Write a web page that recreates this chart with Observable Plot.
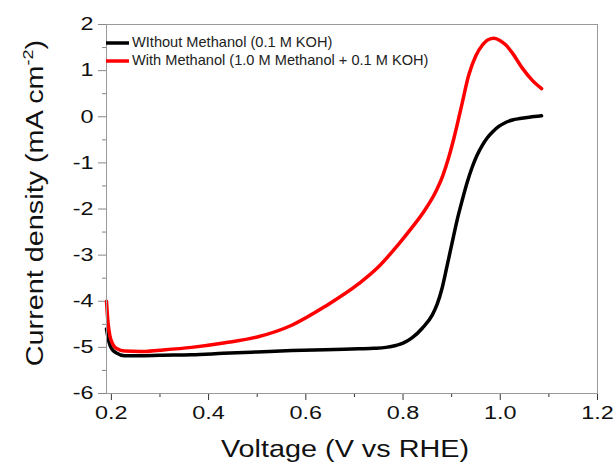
<!DOCTYPE html>
<html><head><meta charset="utf-8">
<script src="https://cdn.jsdelivr.net/npm/d3@7"></script>
<script src="https://cdn.jsdelivr.net/npm/@observablehq/plot@0.6"></script>
<style>
html,body{margin:0;padding:0;background:#fff;}
#chart{position:relative;width:616px;height:463px;}
</style></head><body><div id="chart"></div>
<script>
const seriesNames = ["WIthout Methanol (0.1 M KOH)", "With Methanol (1.0 M Methanol + 0.1 M KOH)"];
const seriesColors = ["#000000", "#ff0000"];

const voltageWithout = [0.190, 0.195, 0.200, 0.210, 0.227, 0.26, 0.30, 0.365, 0.43, 0.50, 0.571, 0.64, 0.709, 0.74, 0.765, 0.785, 0.80, 0.819, 0.84, 0.86, 0.87, 0.88, 0.89, 0.901, 0.911, 0.922, 0.932, 0.942, 0.952, 0.963, 0.973, 0.985, 0.997, 1.01, 1.025, 1.04, 1.06, 1.085];
const currentWithout = [-4.60, -4.88, -5.02, -5.12, -5.18, -5.18, -5.17, -5.16, -5.13, -5.10, -5.07, -5.05, -5.03, -5.02, -5.00, -4.96, -4.91, -4.79, -4.58, -4.30, -4.07, -3.73, -3.26, -2.73, -2.25, -1.80, -1.42, -1.10, -0.84, -0.62, -0.46, -0.32, -0.21, -0.13, -0.07, -0.04, -0.01, 0.02];

const voltageWith = [0.190, 0.193, 0.197, 0.203, 0.212, 0.227, 0.26, 0.30, 0.365, 0.434, 0.502, 0.571, 0.64, 0.709, 0.748, 0.791, 0.817, 0.845, 0.867, 0.882, 0.894, 0.905, 0.92, 0.935, 0.95, 0.963, 0.975, 0.987, 1.0, 1.011, 1.025, 1.045, 1.065, 1.085];
const currentWith = [-4.00, -4.45, -4.75, -4.93, -5.03, -5.08, -5.09, -5.06, -5.00, -4.90, -4.77, -4.52, -4.11, -3.62, -3.27, -2.76, -2.42, -2.02, -1.63, -1.27, -0.88, -0.45, 0.22, 0.90, 1.33, 1.55, 1.67, 1.70, 1.65, 1.56, 1.38, 1.06, 0.80, 0.61];

const xTicks = [0.2, 0.4, 0.6, 0.8, 1.0, 1.2];
const xMinorTicks = [0.3, 0.5, 0.7, 0.9, 1.1];
const yTicks = [-6, -5, -4, -3, -2, -1, 0, 1, 2];
const yMinorTicks = [-5.5, -4.5, -3.5, -2.5, -1.5, -0.5, 0.5, 1.5];
const xTitle = "Voltage (V vs RHE)";
const yTitleMain = "Current density (mA cm";
const yTitleSup = "-2";
const yTitleEnd = ")";

const rows = [];
voltageWithout.forEach((v, i) => rows.push({V: v, I: currentWithout[i], s: seriesNames[0]}));
voltageWith.forEach((v, i) => rows.push({V: v, I: currentWith[i], s: seriesNames[1]}));

const FONT = "'Liberation Sans', Arial, sans-serif";

const plot = Plot.plot({
  width: 616, height: 463,
  marginLeft: 106, marginRight: 19, marginTop: 24, marginBottom: 70,
  style: {fontFamily: FONT, background: "white", overflow: "visible"},
  x: {domain: [0.19, 1.2]},
  y: {domain: [-6, 2]},
  color: {domain: seriesNames, range: seriesColors},
  marks: [
    Plot.axisX({ticks: xMinorTicks, tickSize: 4, tickFormat: () => "", label: null, stroke: "#333"}),
    Plot.axisX({ticks: xTicks, tickSize: 7, tickPadding: 6, tickFormat: d3.format(".1f"), fontSize: 18, label: null, stroke: "#333", fill: "#111"}),
    Plot.axisY({ticks: yMinorTicks, tickSize: 4, tickFormat: () => "", label: null, stroke: "#888"}),
    Plot.axisY({ticks: yTicks, tickSize: 8, tickPadding: 5, tickFormat: d => String(d), fontSize: 18, label: null, stroke: "#888", fill: "#111"}),
    Plot.line(rows, {x: "V", y: "I", z: "s", stroke: "s", strokeWidth: 3.5, curve: "monotone-x"}),
    Plot.frame({stroke: "#999"})
  ]
});

document.getElementById("chart").appendChild(plot);
const svg = d3.select(plot);

// Widen tick labels to match the reference's broad lettering
svg.selectAll('g[aria-label$="tick label"] text').each(function() {
  const L = this.getComputedTextLength();
  if (L > 0) {
    this.setAttribute("textLength", (L * 1.3).toFixed(1));
    this.setAttribute("lengthAdjust", "spacingAndGlyphs");
  }
});

// Axis titles
svg.append("text")
  .attr("transform", "translate(345,457) scale(1.2,1)")
  .attr("text-anchor", "middle")
  .attr("font-family", FONT).attr("font-size", 24).attr("fill", "#111")
  .text(xTitle);

const yt = svg.append("text")
  .attr("transform", "translate(43,203) rotate(-90) scale(1.2,1)")
  .attr("text-anchor", "middle")
  .attr("font-family", FONT).attr("font-size", 24).attr("fill", "#111");
yt.append("tspan").text(yTitleMain);
yt.append("tspan").attr("font-size", 15).attr("dy", -10).text(yTitleSup);
yt.append("tspan").attr("dy", 10).text(yTitleEnd);

// Legend
const legendY = [43, 61];
seriesNames.forEach((name, i) => {
  svg.append("line")
    .attr("x1", 106).attr("x2", 129).attr("y1", legendY[i]).attr("y2", legendY[i])
    .attr("stroke", seriesColors[i]).attr("stroke-width", 3.5);
  svg.append("text")
    .attr("x", 132).attr("y", legendY[i] + 3)
    .attr("dy", "0.1em")
    .attr("text-anchor", "start")
    .attr("font-family", FONT).attr("font-size", 14.6).attr("fill", "#222")
    .text(name);
});
</script></body></html>
